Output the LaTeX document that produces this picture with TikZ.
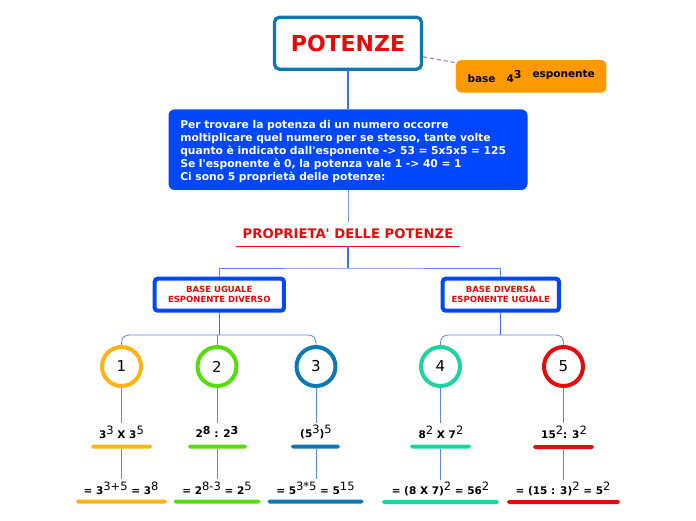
\documentclass[tikz,border=0pt]{standalone}
\usepackage{fontspec}
\setmainfont[Ligatures=TeXOff]{DejaVu Sans}
\definecolor{cblue}{HTML}{0047FF}
\definecolor{cline}{HTML}{3A6FF0}
\definecolor{cred}{HTML}{E60A0A}
\definecolor{corange}{HTML}{FFB413}
\definecolor{cgreen}{HTML}{55DD0A}
\definecolor{cteal}{HTML}{0A78B4}
\definecolor{cmint}{HTML}{1AD69C}
\definecolor{cnote}{HTML}{FF9900}
\definecolor{cdash}{HTML}{A070C0}
\newcommand{\rsup}[1]{\raisebox{3.6pt}{\fontsize{11.5}{12}\mdseries\selectfont #1}}
\newcommand{\bsup}[1]{\raisebox{3.6pt}{\fontsize{11}{11}\bfseries\selectfont #1}}
\tikzset{
  conn/.style={draw=cline,line width=1pt},
  thinconn/.style={draw=cline!85,line width=0.8pt},
  rootbox/.style={draw=cteal,line width=3.3pt,fill=white,rounded corners=5pt,minimum width=147pt,minimum height=52pt,inner sep=0pt,text=cred,font=\fontsize{22}{22}\bfseries\selectfont},
  notebox/.style={fill=cnote,rounded corners=5pt,minimum width=150.5pt,minimum height=32.5pt,inner sep=0pt,font=\fontsize{10.5}{13}\bfseries\selectfont},
  infobox/.style={fill=cblue,rounded corners=6pt,minimum width=359pt,minimum height=80.5pt,inner xsep=11.8pt,inner ysep=0pt,text width=335.4pt,align=left,text=white,font=\fontsize{10.75}{13}\bfseries\selectfont},
  proptitle/.style={text=cred,inner sep=0pt,minimum width=224pt,minimum height=24pt,font=\fontsize{13.2}{14}\bfseries\selectfont},
  basebox/.style={draw=cblue,line width=4pt,fill=white,rounded corners=3pt,inner sep=0pt,minimum height=32pt,align=center,text=cred,font=\fontsize{8.5}{10}\bfseries\selectfont},
  numc/.style={circle,draw=#1,line width=4pt,fill=white,minimum size=39pt,inner sep=0pt,font=\fontsize{15}{15}\selectfont},
  formula/.style={inner sep=0pt,minimum height=18pt,font=\fontsize{10.5}{13}\bfseries\selectfont},
  bar/.style={fill=#1,rounded corners=1.9pt,minimum height=4pt,inner sep=0pt},
}
\begin{document}
\begin{tikzpicture}[x=1pt,y=-1pt]
\useasboundingbox (0,0) rectangle (696,520);
\node[rootbox] (root) at (348,43.2) {POTENZE};
\node[notebox] (note) at (531.2,76.3) {\raisebox{-3.5pt}{base\hspace{11pt}4\bsup{3}}\hspace{11pt}\raisebox{1.5pt}{esponente}};
\node[infobox] (info) at (348,149.7) {\rule{0pt}{12pt}Per trovare la potenza di un numero occorre\\moltiplicare quel numero per se stesso, tante volte\\quanto è indicato dall'esponente -> 53 = 5x5x5 = 125\\Se l'esponente è 0, la potenza vale 1 -> 40 = 1\\Ci sono 5 proprietà delle potenze:};
\node[proptitle] (prop) at (348,234) {PROPRIETA' DELLE POTENZE};
\node[basebox,minimum width=129.3pt] (bu) at (219.3,294.7) {BASE UGUALE\\ESPONENTE DIVERSO};
\node[basebox,minimum width=116.3pt] (bd) at (500.8,294.7) {BASE DIVERSA\\ESPONENTE UGUALE};
\node[numc=corange] (c1) at (121.5,366.5) {1};
\node[numc=cgreen] (c2) at (217,366.5) {2};
\node[numc=cteal] (c3) at (316,366.5) {3};
\node[numc=cmint] (c4) at (440.5,366.5) {4};
\node[numc=cred] (c5) at (563.5,366.5) {5};
\node[formula] (f1) at (121.5,432) {3\rsup{3} X 3\rsup{5}};
\node[formula] (f2) at (217,432) {2\bsup{8} : 2\bsup{3}};
\node[formula] (f3) at (316,432) {(5\rsup{3})\rsup{5}};
\node[formula] (f4) at (441,432) {8\rsup{2} X 7\rsup{2}};
\node[formula] (f5) at (564,432) {15\rsup{2}: 3\rsup{2}};
\node[bar=corange,minimum width=61pt] (b1) at (121.5,446.5) {};
\node[bar=cgreen,minimum width=59pt] (b2) at (217.5,446.5) {};
\node[bar=cteal,minimum width=49pt] (b3) at (315.5,446.5) {};
\node[bar=cmint,minimum width=61pt] (b4) at (440.5,446.5) {};
\node[bar=cred,minimum width=61pt] (b5) at (563.5,447) {};
\node[formula] (g1) at (121,488) {= 3\rsup{3+5} = 3\rsup{8}};
\node[formula] (g2) at (217,488) {= 2\rsup{8-3} = 2\rsup{5}};
\node[formula] (g3) at (315.5,488) {= 5\rsup{3*5} = 5\rsup{15}};
\node[formula] (g4) at (440.5,489) {= (8 X 7)\rsup{2} = 56\rsup{2}};
\node[formula] (g5) at (563,489) {= (15 : 3)\rsup{2} = 5\rsup{2}};
\node[bar=corange,minimum width=91pt] (h1) at (121.5,501.5) {};
\node[bar=cgreen,minimum width=87pt] (h2) at (217,501.5) {};
\node[bar=cteal,minimum width=96pt] (h3) at (315.5,501.5) {};
\node[bar=cmint,minimum width=117pt] (h4) at (440.5,502) {};
\node[bar=cred,minimum width=113pt] (h5) at (563.5,502) {};
\coordinate (pu) at (348,268);
\coordinate (tu) at (219.3,335);
\coordinate (td) at (500.8,335);
\draw[cdash,line width=1pt,dash pattern=on 4pt off 3pt] (root) -- (note);
\draw[conn,line width=1.2pt] (root.south) -- (info.north);
\draw[conn,cline!70] (info.south) -- (prop.north);
\draw[cred,line width=1pt] (prop.south west) -- (prop.south east);
\draw[conn,line width=1.2pt] (prop.south) -- (pu);
\draw[thinconn] (bu.north) |- (pu) -| (bd.north);
\draw[conn,line width=1.2pt] (bu.south) -- (tu);
\draw[conn,line width=1.2pt] (bd.south) -- (td);
\draw[thinconn] (c1.north) .. controls +(0,-8) and +(-8,0) .. +(10,-10) -- (tu);
\draw[thinconn] (c3.north) .. controls +(0,-8) and +(8,0) .. +(-10,-10) -- (tu);
\draw[thinconn] (c2.north) -- (c2.north |- tu);
\draw[thinconn] (c4.north) .. controls +(0,-8) and +(-8,0) .. +(10,-10) -- (td);
\draw[thinconn] (c5.north) .. controls +(0,-8) and +(8,0) .. +(-10,-10) -- (td);
\foreach \n in {1,2,3,4,5}{
  \draw[thinconn] (c\n.south) -- (c\n.south |- f\n.north);
  \draw[thinconn] (c\n.south |- b\n.south) -- (c\n.south |- g\n.north);
}
\end{tikzpicture}
\end{document}
